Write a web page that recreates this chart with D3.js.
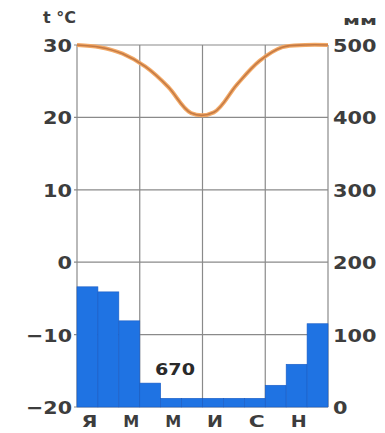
<!DOCTYPE html>
<html><head><meta charset="utf-8">
<script src="https://cdn.jsdelivr.net/npm/d3@7"></script>
<style>html,body{margin:0;padding:0;background:#fff;}svg{display:block;}</style>
</head><body>
<svg id="c" width="385" height="433"></svg>
<script>
const months = ["Я","Ф","М","А","М","И","И","А","С","О","Н","Д"];
const monthLabels = ["Я","М","М","И","С","Н"];
const temperature = [30, 29.7, 28.8, 27.0, 24.2, 20.6, 20.7, 24.5, 27.8, 29.7, 30, 30];
const precipitation = [166, 159, 119, 33, 12, 12, 12, 12, 12, 30, 59, 115];
const tempTicks = [30, 20, 10, 0, -10, -20];
const precTicks = [500, 400, 300, 200, 100, 0];
const totalLabel = "670";

const svg = d3.select("#c");
const L = 77, R = 328, T = 45, B = 407;
const x = d3.scaleBand().domain(d3.range(12)).range([L, R]).padding(0);
const xp = d3.scalePoint().domain(d3.range(12)).range([L, R]).padding(0);
const yT = d3.scaleLinear().domain([-20, 30]).range([B, T]);
const yP = d3.scaleLinear().domain([0, 500]).range([B, T]);
const textCol = "#3d3d3d";
const font = "'DejaVu Sans', sans-serif";

// grid
const grid = svg.append("g").attr("stroke", "#8a8a8a").attr("stroke-width", 1.2);
grid.selectAll("line.h").data(tempTicks).join("line")
  .attr("x1", L - 3).attr("x2", R).attr("y1", d => yT(d)).attr("y2", d => yT(d));
grid.selectAll("line.v").data([0, 3, 6, 9, 12]).join("line")
  .attr("x1", d => d === 12 ? R : x(d)).attr("x2", d => d === 12 ? R : x(d))
  .attr("y1", T).attr("y2", B);

// bars
svg.append("g").selectAll("rect").data(precipitation).join("rect")
  .attr("x", (d, i) => x(i)).attr("width", x.bandwidth())
  .attr("y", d => yP(d)).attr("height", d => yP(0) - yP(d))
  .attr("fill", "#1f73e3").attr("stroke", "#1a5cc4").attr("stroke-width", 0.6);

// temperature line
const line = d3.line().x((d, i) => xp(i)).y(d => yT(d)).curve(d3.curveCatmullRom);
svg.append("path").datum(temperature).attr("d", line)
  .attr("fill", "none").attr("stroke", "#f2a865").attr("stroke-width", 4);
svg.append("path").datum(temperature).attr("d", line)
  .attr("fill", "none").attr("stroke", "#c47a45").attr("stroke-width", 1.6);

// left axis labels
function wtext(sel, s) {
  const w = s.replace("-", "").length * 14.5 + (s.startsWith("-") ? 17 : 0);
  sel.attr("textLength", w).attr("lengthAdjust", "spacingAndGlyphs");
}
svg.append("g").selectAll("text").data(tempTicks).join("text")
  .attr("x", 72).attr("y", d => yT(d) + 7).attr("text-anchor", "end")
  .attr("font-family", font).attr("font-weight", "bold").attr("font-size", 18)
  .attr("fill", textCol)
  .text(d => d < 0 ? "\u2212" + Math.abs(d) : d)
  .each(function(d) { wtext(d3.select(this), String(d)); });

svg.append("g").selectAll("text").data(precTicks).join("text")
  .attr("x", 333).attr("y", d => yP(d) + 7).attr("text-anchor", "start")
  .attr("font-family", font).attr("font-weight", "bold").attr("font-size", 18)
  .attr("fill", textCol).text(d => d)
  .each(function(d) { wtext(d3.select(this), String(d)); });

// units
svg.append("text").attr("x", 43).attr("y", 23).attr("font-family", font)
  .attr("font-weight", "bold").attr("font-size", 16).attr("fill", textCol).text("t °C");
svg.append("text").attr("x", 343).attr("y", 25).attr("font-family", font)
  .attr("font-weight", "bold").attr("font-size", 13).attr("fill", textCol)
  .attr("textLength", 34).attr("lengthAdjust", "spacingAndGlyphs").text("мм");

// month labels
svg.append("g").selectAll("text").data(monthLabels).join("text")
  .attr("x", (d, i) => x(i * 2) + x.bandwidth() / 2 + 2).attr("y", 427)
  .attr("text-anchor", "middle").attr("font-family", font).attr("font-weight", "bold")
  .attr("font-size", 15).attr("fill", textCol)
  .attr("textLength", 16).attr("lengthAdjust", "spacingAndGlyphs").text(d => d);

// total
svg.append("text").attr("x", 175).attr("y", 375).attr("text-anchor", "middle")
  .attr("font-family", font).attr("font-weight", "bold").attr("font-size", 16)
  .attr("fill", "#2a2a2a").attr("textLength", 40).attr("lengthAdjust", "spacingAndGlyphs")
  .text(totalLabel);
</script>
</body></html>
